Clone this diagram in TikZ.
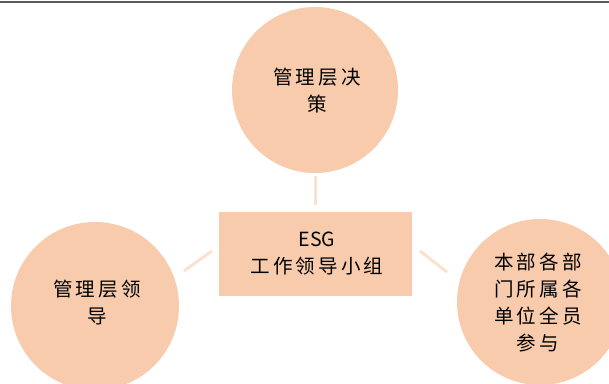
\documentclass[tikz,border=0pt]{standalone}
\usepackage{fontspec}
\newfontfamily\cjk[LetterSpace=16]{Noto Sans CJK SC}
\newfontfamily\cjkplain{Noto Sans CJK SC}
\definecolor{peach}{HTML}{F8CBAD}
\definecolor{paleline}{HTML}{FBE2D0}
\definecolor{topbar}{HTML}{595959}
\begin{document}
\begin{tikzpicture}[x=1pt,y=-1pt,
  bubble/.style={circle,fill=peach,draw=none,minimum size=#1,inner sep=0pt},
  label/.style={font=\cjk\fontsize{19.5}{27}\selectfont,align=center,text=black},
  link/.style={draw=paleline,line width=3pt}]
\useasboundingbox (0,0) rectangle (609,383);
\fill[white] (0,0) rectangle (609,383);
\draw[topbar,line width=2pt] (0,1.5) -- (609,1.5);
\node[bubble=166pt] (top) at (315,90) {};
\node[bubble=168pt] (left) at (95,306) {};
\node[bubble=166pt] (right) at (540,302) {};
\node[rectangle,fill=peach,draw=white,line width=0.8pt,minimum width=194pt,minimum height=85pt] (box) at (315,253.5) {};
\node[label] (ttop) at (317,91) {管理层决\\策};
\node[label] (tleft) at (97,303) {管理层领\\导};
\node[label] (tright) at (538,303) {本部各部\\门所属各\\单位全员\\参与};
\node[label] (tbox) at (317,254) {{\cjkplain ESG}\\工作领导小组};
\coordinate (c1) at (315,176);
\coordinate (c2) at (315,205);
\coordinate (c3) at (184,271);
\coordinate (c4) at (212,251);
\coordinate (c5) at (420,251);
\coordinate (c6) at (447,272);
\draw[link] (c1) -- (c2);
\draw[link] (c3) -- (c4);
\draw[link] (c5) -- (c6);
\end{tikzpicture}
\end{document}
